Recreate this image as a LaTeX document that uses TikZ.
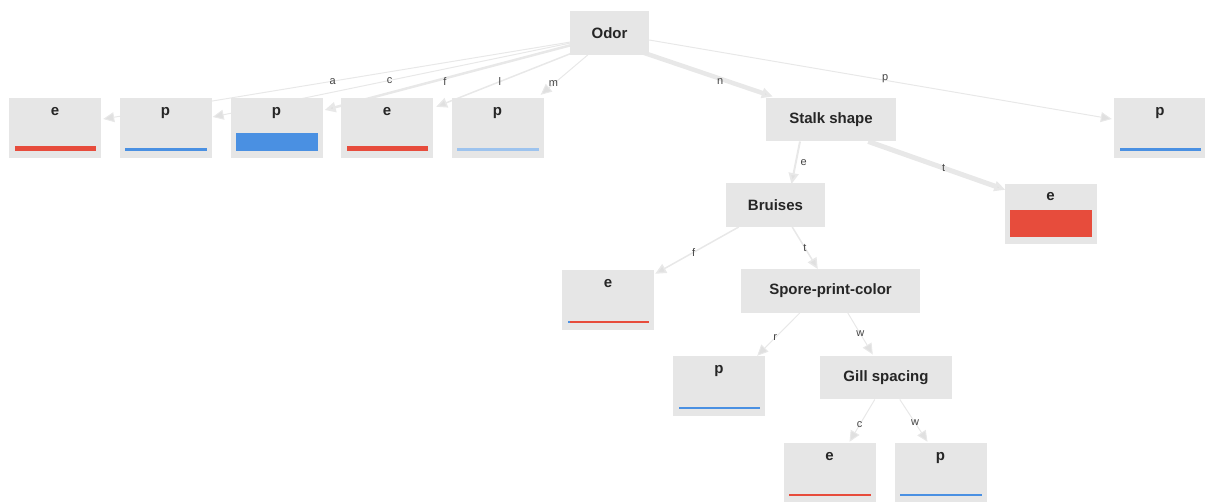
\documentclass[tikz,border=0pt]{standalone}
\usepackage{fontspec}
\setmainfont{Liberation Sans}
\usetikzlibrary{arrows.meta,calc,backgrounds}
\definecolor{boxgray}{HTML}{E6E6E6}
\definecolor{edgegray}{HTML}{E8E8E8}
\definecolor{tipgray}{HTML}{E0E0E0}
\definecolor{barred}{HTML}{E74C3C}
\definecolor{barblue}{HTML}{4A90E2}
\definecolor{barlight}{HTML}{9DC3EE}
\definecolor{txt}{HTML}{262626}
\definecolor{lbltxt}{HTML}{444444}
\newcommand\leafbar[3]{\fill[#2] ($(#1.south west)+(6,-7)$) rectangle ($(#1.south east)+(-5,-7-#3)$);}
\begin{document}
\begin{tikzpicture}[x=1pt,y=-1pt,
  inner node/.style={fill=boxgray,draw=none,minimum height=43.5pt,inner sep=0pt,
     font=\fontsize{15}{17}\selectfont\bfseries,text=txt},
  leaf/.style={fill=boxgray,draw=none,minimum width=92pt,minimum height=60pt,inner sep=0pt},
  leaftext/.style={font=\fontsize{15}{17}\selectfont\bfseries,text=txt,anchor=center,yshift=-14pt,
     text height=1.5ex,text depth=0pt,inner sep=0pt},
  conn/.style={draw=edgegray,-{Triangle[length=11pt,width=10pt,fill=tipgray]},line width=#1},
  conn/.default=1pt,
  elabel/.style={font=\fontsize{11}{13}\selectfont,text=lbltxt,inner sep=1pt}]
\useasboundingbox (0,0) rectangle (1205,502);
% inner nodes
\node[inner node,minimum width=79pt] (odor) at (609.5,33) {Odor};
\node[inner node,minimum width=130pt] (stalk) at (831,119.5) {Stalk shape};
\node[inner node,minimum width=99pt] (bruises) at (775.5,205) {Bruises};
\node[inner node,minimum width=179pt] (spore) at (830.5,291) {Spore-print-color};
\node[inner node,minimum width=132pt] (gill) at (886,377.5) {Gill spacing};
% leaves
\node[leaf,label={[leaftext]north:e}] (e1) at (55,128) {};
\node[leaf,label={[leaftext]north:p}] (p1) at (165.5,128) {};
\node[leaf,label={[leaftext]north:p}] (p2) at (276.5,128) {};
\node[leaf,label={[leaftext]north:e}] (e2) at (387,128) {};
\node[leaf,label={[leaftext]north:p}] (p3) at (497.5,128) {};
\node[leaf,label={[leaftext]north:p}] (pR) at (1160,128) {};
\node[leaf,label={[leaftext,yshift=1pt]north:e}] (eS) at (1050.5,214) {};
\node[leaf,label={[leaftext]north:e}] (eB) at (608,300) {};
\node[leaf,label={[leaftext]north:p}] (pS) at (719,386) {};
\node[leaf,label={[leaftext]north:e}] (eG) at (829.5,473) {};
\node[leaf,label={[leaftext]north:p}] (pG) at (940.5,473) {};
% bars
\leafbar{e1}{barred}{5}
\leafbar{p1}{barblue}{3}
\leafbar{p2}{barblue}{18}
\leafbar{e2}{barred}{5}
\leafbar{p3}{barlight}{3}
\leafbar{pR}{barblue}{3}
\leafbar{eS}{barred}{27}
\leafbar{eB}{barred}{2.5}
\fill[barblue] ($(eB.south west)+(6,-7)$) rectangle ($(eB.south west)+(8,-9.5)$);
\leafbar{pS}{barblue}{2.5}
\leafbar{eG}{barred}{2.5}
\leafbar{pG}{barblue}{2.5}
% connectors
\begin{pgfonlayer}{background}
\draw[conn=1pt] ($(odor.south west)+(1,-13)$) -- node[elabel,pos=0.509]{a} ($(e1.east)+(2,-9)$);
\draw[conn=1pt] ($(odor.south west)+(1,-12)$) -- node[elabel,pos=0.506]{c} ($(p1.east)+(1,-11)$);
\draw[conn=2.5pt] ($(odor.south west)+(2,-10)$) -- node[elabel,pos=0.514,yshift=-3pt]{f} ($(p2.east)+(2,-18)$);
\draw[conn=1.5pt] ($(odor.south west)+(5,-3)$) -- node[elabel,pos=0.54]{l} ($(e2.north east)+(3,9)$);
\draw[conn=1pt] ($(odor.south west)+(18,0)$) -- node[elabel,pos=0.73]{m} ($(p3.north east)+(-3,-3)$);
\draw[conn=4.5pt] ($(odor.south east)+(-5,-2)$) -- node[elabel,pos=0.59,yshift=-3pt]{n} ($(stalk.north west)+(7,-1)$);
\draw[conn=1pt] ($(odor.east)+(0,7)$) -- node[elabel,pos=0.51,yshift=2pt]{p} ($(pR.west)+(-2,-9)$);
\draw[conn=2pt] ($(stalk.south)+(-31,0)$) -- node[elabel,pos=0.5,xshift=8pt]{e} ($(bruises.north)+(16,1)$);
\draw[conn=5pt] ($(stalk.south east)+(-28,0)$) -- node[elabel,pos=0.55]{t} ($(eS.north west)+(1,6)$);
\draw[conn=1.5pt] ($(bruises.south west)+(13,0)$) -- node[elabel,pos=0.54]{f} ($(eB.north east)+(1,4)$);
\draw[conn=1.5pt] ($(bruises.south east)+(-33,0)$) -- node[elabel,pos=0.5]{t} ($(spore.north west)+(77,0)$);
\draw[conn=1pt] ($(spore.south west)+(59,0)$) -- node[elabel,pos=0.58]{r} ($(pS.north east)+(-8,0)$);
\draw[conn=1pt] ($(spore.south west)+(107,0)$) -- node[elabel,pos=0.5]{w} ($(gill.north west)+(53,-1)$);
\draw[conn=1pt] ($(gill.south west)+(55,0)$) -- node[elabel,pos=0.6]{c} ($(eG.north)+(20,-1)$);
\draw[conn=1pt] ($(gill.south west)+(80,0)$) -- node[elabel,pos=0.55]{w} ($(pG.north)+(-13,-1)$);
\end{pgfonlayer}
\end{tikzpicture}
\end{document}
